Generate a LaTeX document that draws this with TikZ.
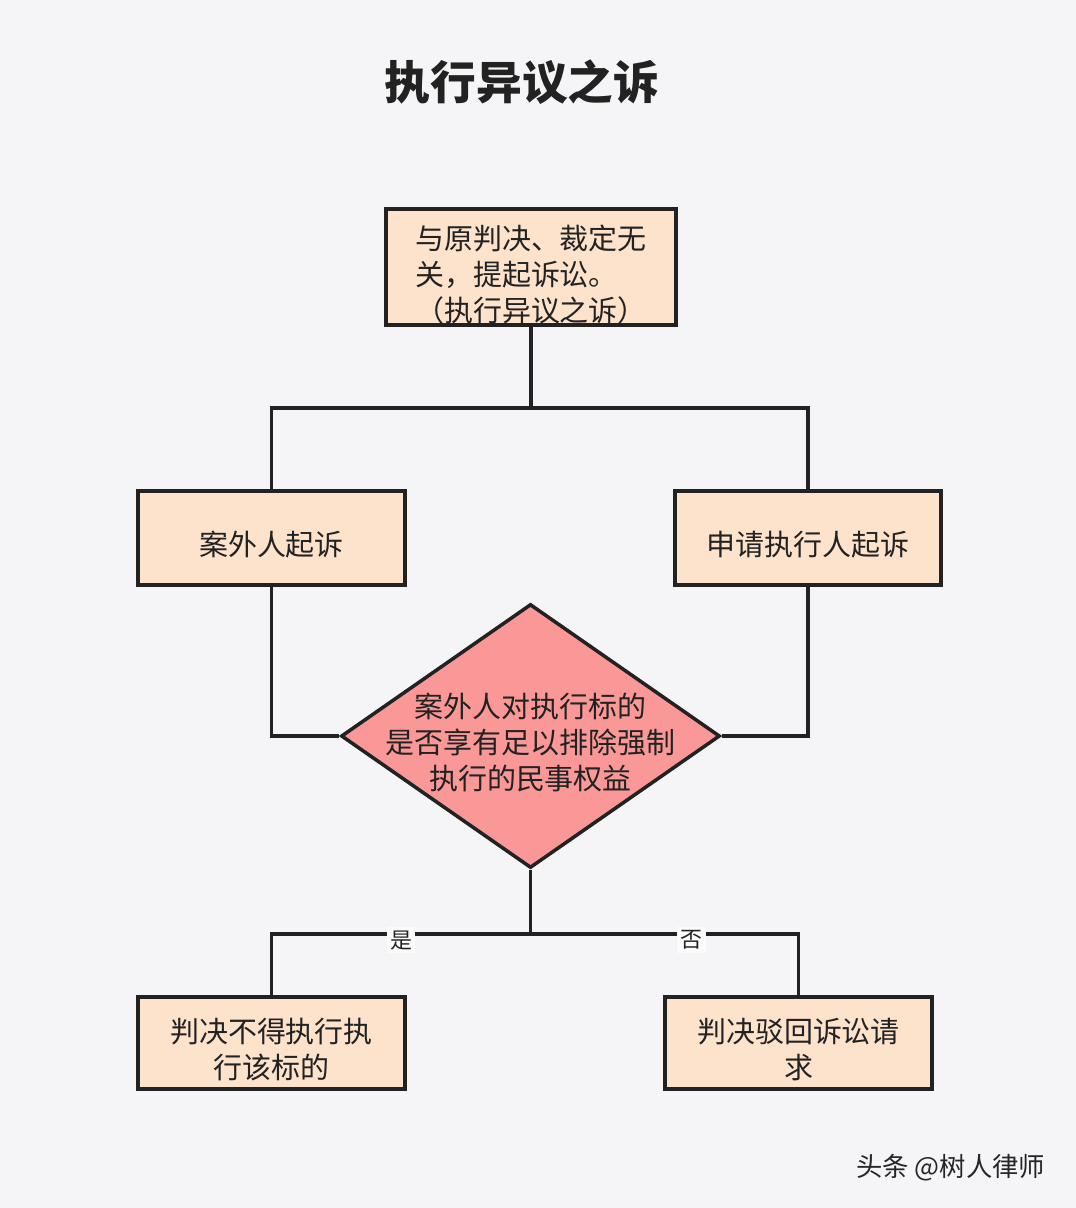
\documentclass[tikz,border=0pt]{standalone}
\usepackage{fontspec}
\usepackage{xcolor}
\usepackage{tikz}
\usetikzlibrary{shapes,arrows,positioning,calc,shapes.geometric}
\newfontfamily\cjk{Noto Sans CJK SC}
\definecolor{bgcol}{RGB}{245,244,247}
\definecolor{boxfill}{RGB}{253,226,204}
\definecolor{diafill}{RGB}{250,152,152}
\definecolor{linecol}{RGB}{34,34,34}
\tikzset{
    box/.style={draw=linecol, line width=2.2pt, fill=boxfill, inner sep=0pt, text depth=0pt,
        font=\cjk\fontsize{16.5}{20.5}\selectfont, text=linecol},
    decision/.style={diamond, draw=linecol, line width=2pt, fill=diafill,
        inner sep=0pt, minimum width=7.58cm, minimum height=5.28cm},
    link/.style={draw=linecol, line width=2pt},
    answer/.style={fill=bgcol!40!white, inner sep=2pt, yshift=-3.5pt,
        font=\cjk\fontsize{12.5}{14}\selectfont, text=linecol}
}

\begin{document}
\begin{tikzpicture}[x=0.02cm, y=-0.02cm]
    % Canvas
    \fill[bgcol] (0,0) rectangle (1076,1208);
    \useasboundingbox (0,0) rectangle (1076,1208);

    % Title
    \node[font=\cjk\bfseries\fontsize{26}{30}\selectfont, text=linecol] (title) at (522,82) {执行异议之诉};

    % Boxes
    \node[box, text height=62pt, minimum width=5.8cm, minimum height=2.32cm, align=left] (orig) at (531,267)
        {与原判决、裁定无\\关，提起诉讼。\\（执行异议之诉）};
    \node[box, text height=19.5pt, minimum width=5.34cm, minimum height=1.88cm] (outsider) at (271.5,538) {案外人起诉};
    \node[box, text height=19.5pt, minimum width=5.32cm, minimum height=1.88cm] (creditor) at (808,538) {申请执行人起诉};

    % Decision
    \node[decision] (dia) at (530.5,736) {};
    \node[font=\cjk\fontsize{16.5}{20.5}\selectfont, text=linecol, align=center] (question) at (530.5,742)
        {案外人对执行标的\\是否享有足以排除强制\\执行的民事权益};

    % Results
    \node[box, text height=40pt, minimum width=5.34cm, minimum height=1.84cm, align=center] (yes) at (271.5,1043)
        {判决不得执行执\\行该标的};
    \node[box, text height=40pt, minimum width=5.34cm, minimum height=1.84cm, align=center] (no) at (798.5,1043)
        {判决驳回诉讼请\\求};

    % Connectors
    \coordinate (split) at (orig.south |- 0,408);
    \draw[link] (orig.south) -- (split);
    \draw[link] (split) -| (outsider.north);
    \draw[link] (split) -| (creditor.north);
    \draw[link] (outsider.south) |- (dia.west);
    \draw[link] (creditor.south) |- (dia.east);

    \coordinate (verdict) at (dia.south |- 0,934);
    \draw[link] (dia.south) -- (verdict);
    \draw[link] (verdict) -| node[answer, pos=0.25] (shi) {是} (yes.north);
    \draw[link] (verdict) -| node[answer, pos=0.30] (fou) {否} (no.north);

    % Watermark
    \node[anchor=west, font=\cjk\fontsize{15}{18}\selectfont, text=black!85] (mark) at (850,1168) {头条 @树人律师};
\end{tikzpicture}
\end{document}
